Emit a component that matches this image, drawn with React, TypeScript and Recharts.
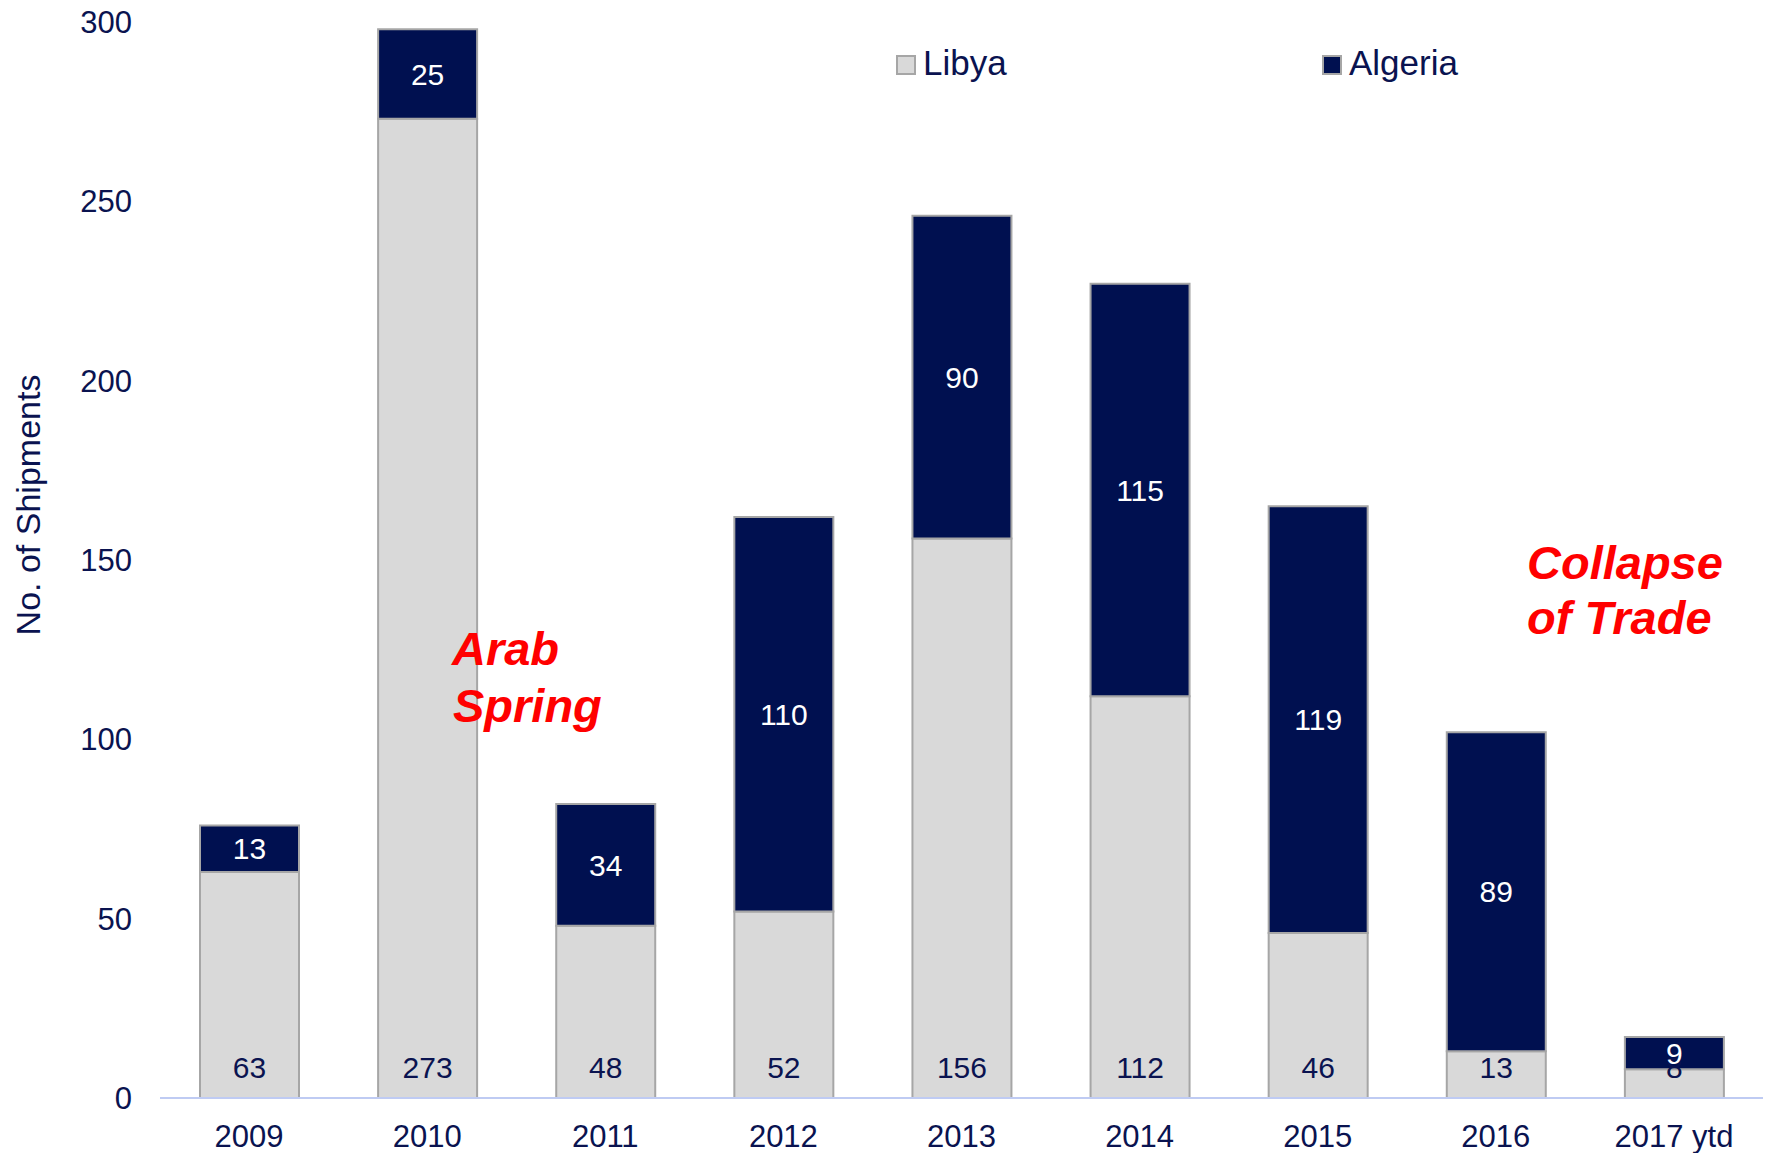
import React from 'react';
import { BarChart, Bar, XAxis, YAxis, LabelList, Legend } from 'recharts';

const categories = ['2009', '2010', '2011', '2012', '2013', '2014', '2015', '2016', '2017 ytd'];
const libya = [63, 273, 48, 52, 156, 112, 46, 13, 8];
const algeria = [13, 25, 34, 110, 90, 115, 119, 89, 9];
const yTicks = [0, 50, 100, 150, 200, 250, 300];

const data = categories.map((c, i) => ({ year: c, Libya: libya[i], Algeria: algeria[i] }));

const NAVY = '#001050';
const TEXT = '#0a1350';
const GREY = '#d9d9d9';
const BORDER = '#a6a6a6';
const FONT = '"Liberation Sans", Arial, sans-serif';

const LegendContent = () => (
  <svg width={1767} height={100} style={{ display: 'block' }}>
    <rect x={897} y={56} width={18} height={18} fill={GREY} stroke={BORDER} strokeWidth={2} />
    <text x={923} y={75} fontSize={35} fill={TEXT} fontFamily={FONT}>Libya</text>
    <rect x={1323} y={56} width={18} height={18} fill={NAVY} stroke={BORDER} strokeWidth={2} />
    <text x={1349} y={75} fontSize={35} fill={TEXT} fontFamily={FONT}>Algeria</text>
  </svg>
);

export default function App() {
  return (
    <div style={{ position: 'absolute', left: 0, top: 0, width: 1767, height: 1153, background: '#fff', fontFamily: FONT }}>
      <BarChart
        width={1767}
        height={1153}
        data={data}
        margin={{ top: 22, right: 4, bottom: 0, left: 0 }}
      >
        <XAxis
          dataKey="year"
          height={55}
          tickLine={false}
          tickSize={0}
          tickMargin={27}
          axisLine={{ stroke: '#bfcbf3', strokeWidth: 2 }}
          tick={{ fill: TEXT, fontSize: 31, fontFamily: FONT }}
          interval={0}
        />
        <YAxis
          width={160}
          domain={[0, 300]}
          ticks={yTicks}
          axisLine={false}
          tickLine={false}
          tickSize={0}
          tickMargin={28}
          tick={{ fill: TEXT, fontSize: 31, fontFamily: FONT }}
        />
        <Legend
          layout="horizontal"
          verticalAlign="middle"
          align="center"
          wrapperStyle={{ position: 'absolute', top: 0, left: 0, width: 1767, height: 100 }}
          content={<LegendContent />}
        />
        <Bar dataKey="Libya" stackId="a" fill={GREY} stroke={BORDER} strokeWidth={2} barSize={99} isAnimationActive={false}>
          <LabelList dataKey="Libya" position="insideBottom" offset={20} fill={TEXT} fontSize={30} fontFamily={FONT} />
        </Bar>
        <Bar dataKey="Algeria" stackId="a" fill={NAVY} stroke={BORDER} strokeWidth={2} barSize={99} isAnimationActive={false}>
          <LabelList dataKey="Algeria" position="center" fill="#ffffff" fontSize={30} fontFamily={FONT} />
        </Bar>
      </BarChart>
      <svg width={1767} height={1153} style={{ position: 'absolute', left: 0, top: 0, pointerEvents: 'none' }}>
        <text x={28} y={505} transform="rotate(-90 28 505)" textAnchor="middle" dominantBaseline="central" fontSize={34} fill={TEXT} fontFamily={FONT}>No. of Shipments</text>
        <text x={452} y={665} fontSize={47} fontWeight="bold" fontStyle="italic" fill="#ff0000" fontFamily={FONT}>Arab</text>
        <text x={453} y={722} fontSize={47} fontWeight="bold" fontStyle="italic" fill="#ff0000" fontFamily={FONT}>Spring</text>
        <text x={1527} y={579} fontSize={47} fontWeight="bold" fontStyle="italic" fill="#ff0000" fontFamily={FONT}>Collapse</text>
        <text x={1527} y={634} fontSize={47} fontWeight="bold" fontStyle="italic" fill="#ff0000" fontFamily={FONT}>of Trade</text>
      </svg>
    </div>
  );
}
